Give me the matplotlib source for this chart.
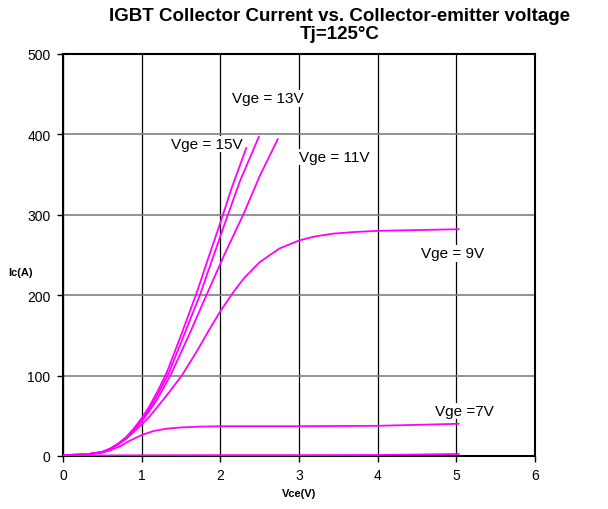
import numpy as np
import matplotlib.pyplot as plt

plt.rcParams['font.family'] = ['Liberation Sans', 'DejaVu Sans']

# Vge = 15V
vce_15 = [0, 0.3, 0.5, 0.6, 0.7, 0.8, 0.9, 1.0, 1.1, 1.2, 1.32, 1.5, 1.7, 1.85, 2.0, 2.15, 2.33]
ic_15 = [1, 2, 5, 9, 15, 23, 34, 47, 62, 80, 104, 150, 203, 247, 290, 335, 383]
# Vge = 13V
vce_13 = [0, 0.3, 0.5, 0.6, 0.7, 0.8, 0.9, 1.0, 1.1, 1.2, 1.34, 1.5, 1.74, 1.9, 2.06, 2.25, 2.49]
ic_13 = [1, 2, 5, 9, 15, 23, 33, 45, 59, 76, 102, 141, 200, 245, 290, 342, 397]
# Vge = 11V
vce_11 = [0, 0.3, 0.5, 0.6, 0.7, 0.8, 0.9, 1.0, 1.1, 1.2, 1.37, 1.6, 1.81, 2.05, 2.3, 2.5, 2.73]
ic_11 = [1, 2, 5, 9, 15, 22, 32, 43, 56, 71, 101, 150, 197, 250, 302, 348, 394]
# Vge = 9V
vce_9 = [0, 0.3, 0.5, 0.6, 0.7, 0.8, 0.9, 1.0, 1.1, 1.2, 1.34, 1.51, 1.7, 1.865, 2.0,
         2.16, 2.3, 2.5, 2.75, 3.0, 3.2, 3.43, 3.7, 4.0, 4.5, 5.03]
ic_9 = [1, 2, 5, 9, 14, 21, 30, 39, 49, 61, 78, 100, 130, 158, 180, 203, 221, 241, 258,
        268, 273, 276.5, 278.5, 280, 281, 282]
# Vge = 7V
vce_7 = [0, 0.3, 0.5, 0.6, 0.725, 0.85, 1.0, 1.15, 1.32, 1.5, 1.75, 2.0, 3.0, 4.0, 5.03]
ic_7 = [1, 2, 4, 7, 12, 19, 26, 31, 34, 35.5, 36.5, 37, 37, 37.5, 40]
# lowest curve
vce_5 = [0, 1.0, 2.0, 3.0, 4.0, 4.5, 5.03]
ic_5 = [0.5, 0.8, 1.0, 1.0, 1.2, 1.8, 2.5]

labels = ["Vge = 13V", "Vge = 15V", "Vge = 11V", "Vge = 9V", "Vge =7V"]
label_x = [2.6, 1.83, 3.45, 4.95, 5.1]
label_y = [445, 388, 372, 252, 56]

fig = plt.figure(figsize=(6.08, 5.10), dpi=100)
ax = fig.add_axes([0.1036, 0.104, 0.7763, 0.7882])

mag = '#ff00ff'
for xs, ys in [(vce_15, ic_15), (vce_13, ic_13), (vce_11, ic_11),
               (vce_9, ic_9), (vce_7, ic_7), (vce_5, ic_5)]:
    ax.plot(xs, ys, color=mag, lw=1.3, zorder=3)

for t, x, y in zip(labels, label_x, label_y):
    ax.text(x, y, t, ha='center', va='center', fontsize=11, zorder=4,
            bbox=dict(facecolor='white', edgecolor='none', pad=1.0))

ax.set_xlim(0, 6)
ax.set_ylim(0, 500)
ax.set_xticks(range(0, 7))
ax.set_yticks(range(0, 501, 100))
ax.xaxis.grid(True, color='black', lw=0.9)
ax.yaxis.grid(True, color='#808080', lw=1.2)
ax.set_axisbelow(True)
for s in ax.spines.values():
    s.set_linewidth(1.5)
ax.tick_params(direction='out', length=4, width=1, labelsize=10, pad=5)

ax.set_xlabel("Vce(V)", fontsize=8, fontweight='bold', labelpad=4)
fig.text(0.013, 0.465, "Ic(A)", fontsize=8, fontweight='bold', ha='left', va='center')

fig.text(0.559, 0.968, "IGBT Collector Current vs. Collector-emitter voltage",
         ha='center', va='center', fontsize=13.5, fontweight='bold')
fig.text(0.559, 0.933, "Tj=125°C", ha='center', va='center', fontsize=13.5, fontweight='bold')

plt.savefig("out.png", dpi=100)
